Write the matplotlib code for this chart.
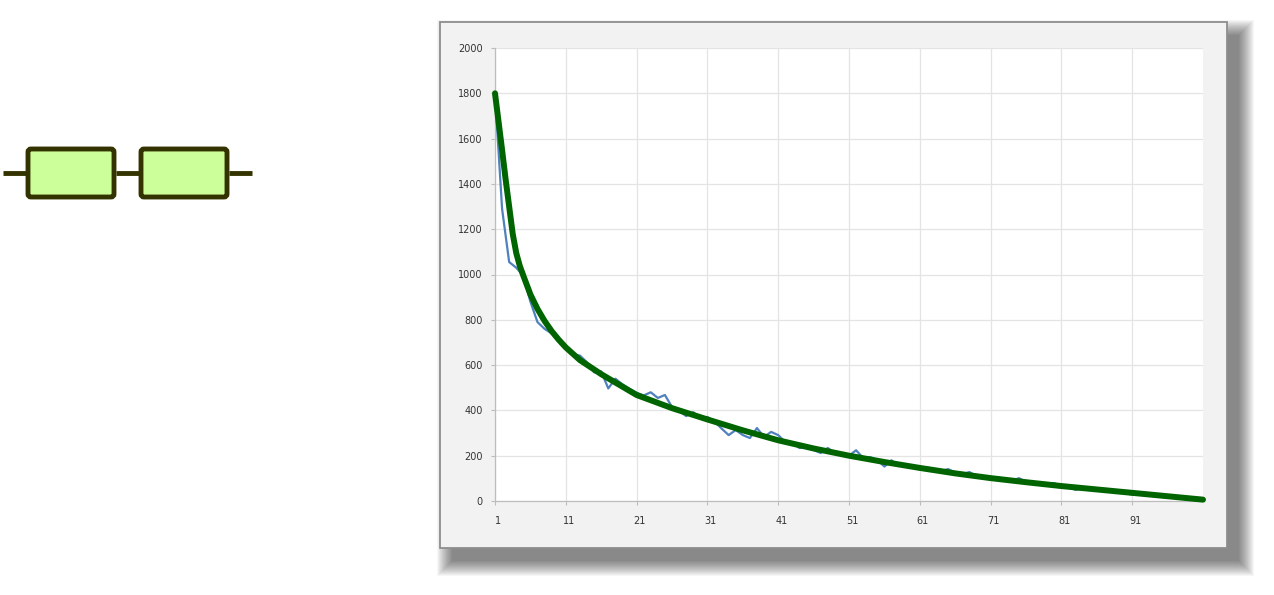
import matplotlib
matplotlib.use("Agg")
import matplotlib.pyplot as plt
from matplotlib.patches import Rectangle, FancyBboxPatch
import matplotlib.transforms as mtransforms

# measured series, one value per category 1..101
categories = list(range(1, 102))
measured = [1800, 1290, 1055, 1030, 995, 880, 790, 760, 740, 720,
            685, 648, 642, 612, 568, 572, 497, 540, 515, 495,
            478, 466, 480, 455, 468, 415, 398, 375, 392, 367,
            371, 350, 320, 291, 313, 291, 278, 322, 283, 305,
            291, 260, 256, 234, 238, 225, 212, 234, 212, 205,
            200, 224, 190, 194, 181, 152, 180, 155, 162, 150,
            140, 150, 138, 132, 141, 125, 118, 128, 110, 104,
            100, 106, 94, 88, 101, 85, 80, 74, 70, 79,
            64, 60, 49, 55, 52, 48, 46, 42, 40, 36,
            28, 30, 32, 28, 22, 20, 18, 15, 12, 10, 6]

# trend line
trend_x = [1, 1.5, 2, 2.5, 3, 3.5, 4, 4.5, 5, 6, 7, 8, 9, 10, 11, 13, 16,
           21, 26, 31, 36, 41, 46, 51, 56, 61, 66, 71, 76, 81, 86, 91, 96, 101]
trend_y = [1800, 1675, 1550, 1420, 1300, 1180, 1095, 1038, 995, 912, 848,
           795, 750, 712, 678, 622, 560, 468, 410, 360, 312, 268, 232, 200,
           172, 146, 122, 101, 83, 66, 51, 36, 21, 6]

x_ticks = [1, 11, 21, 31, 41, 51, 61, 71, 81, 91]
y_ticks = [0, 200, 400, 600, 800, 1000, 1200, 1400, 1600, 1800, 2000]

W, H = 1274, 595
fig = plt.figure(figsize=(W / 100, H / 100), dpi=100)

# background layer in pixel coordinates
bg = fig.add_axes([0, 0, 1, 1], zorder=0)
bg.set_xlim(0, W)
bg.set_ylim(H, 0)
bg.axis("off")

# drop shadow of the chart panel
for i in range(16):
    bg.add_patch(Rectangle((440 + 12 - i, 22 + 13 - i), 787 + 2 * i, 526 + 2 * i,
                           facecolor="black", edgecolor="none", alpha=0.037))
# chart panel
bg.add_patch(Rectangle((440, 22), 787, 526, facecolor="#f2f2f2",
                       edgecolor="#8e8e8e", linewidth=1.3))

# series circuit on the left
wire = "#333300"
bg.plot([3, 26], [173, 173], color=wire, lw=3.5, solid_capstyle="butt")
bg.plot([116, 139], [173, 173], color=wire, lw=3.5, solid_capstyle="butt")
bg.plot([229, 252], [173, 173], color=wire, lw=3.5, solid_capstyle="butt")
for x0 in [28, 141]:
    bg.add_patch(FancyBboxPatch((x0, 149), 86, 48,
                                boxstyle="round,pad=0,rounding_size=3",
                                facecolor="#ccff99", edgecolor=wire, linewidth=3.5))

# chart
ax = fig.add_axes([495 / W, (H - 501) / H, 708 / W, 453 / H], zorder=1)
ax.set_facecolor("white")
ax.plot(categories, measured, color="#4f81bd", lw=1.6, zorder=3)
ax.plot(trend_x, trend_y, color="#006400", lw=4.3, solid_capstyle="round",
        solid_joinstyle="round", zorder=4, clip_on=False)

ax.set_xlim(1, 101)
ax.set_ylim(0, 2000)
ax.set_xticks(x_ticks)
ax.set_yticks(y_ticks)
ax.grid(True, color="#e4e4e4", lw=0.9)
ax.set_axisbelow(True)
for s in ["top", "right"]:
    ax.spines[s].set_visible(False)
for s in ["left", "bottom"]:
    ax.spines[s].set_color("#bdbdbd")
    ax.spines[s].set_linewidth(0.9)
ax.tick_params(axis="both", length=3, width=0.8, color="#bdbdbd",
               labelsize=7, labelcolor="#333333")
ax.tick_params(axis="y", pad=6)
ax.tick_params(axis="x", pad=8)
offset = mtransforms.ScaledTranslation(3 / 100, 0, fig.dpi_scale_trans)
for lab in ax.get_xticklabels():
    lab.set_transform(lab.get_transform() + offset)

fig.savefig("out.png", dpi=100)
